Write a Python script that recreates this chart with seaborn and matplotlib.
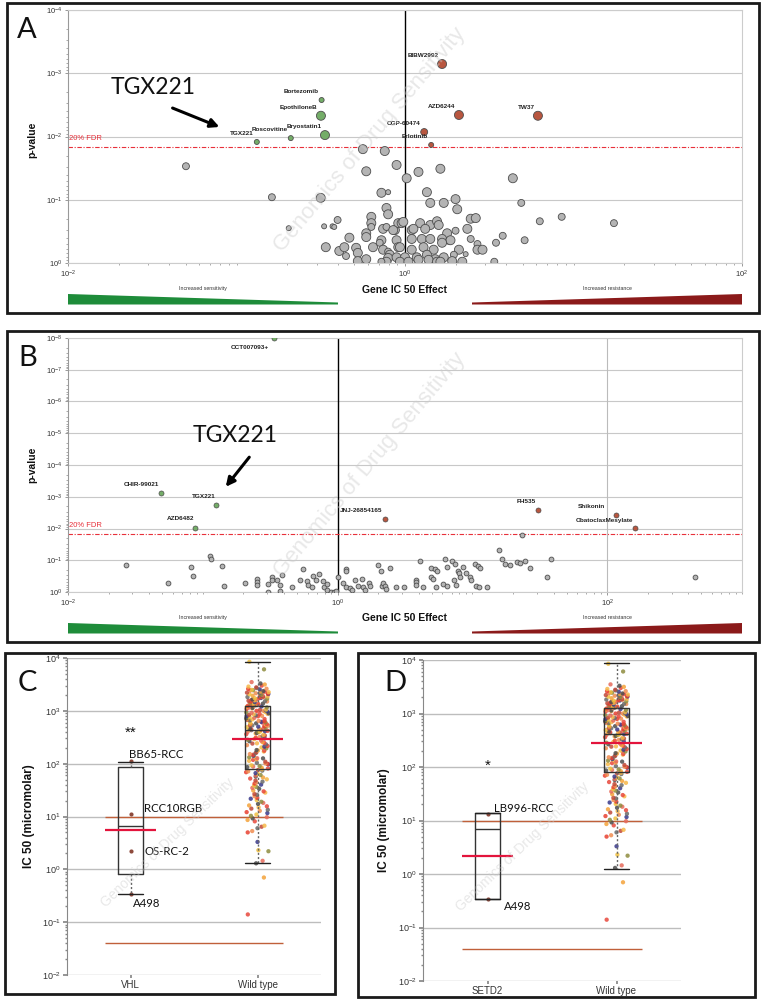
import numpy as np
import pandas as pd
import seaborn as sns
import matplotlib.pyplot as plt
from matplotlib.patches import Rectangle, Polygon
from matplotlib.ticker import LogLocator, NullFormatter, FixedLocator

sns.set_theme(style='white')
plt.rcParams['font.family'] = ['Liberation Sans', 'DejaVu Sans']
plt.rcParams['mathtext.default'] = 'regular'

# ---------------- data ----------------
fdr_p = 0.0144

# panel A: grey drugs as (log10 effect, log10 p, bubble class)
a_gray = [
    (-1.30, -1.53, 'M'), (-0.79, -1.04, 'M'), (-0.50, -1.03, 'L'), (-0.69, -0.55, 'S'),
    (-0.48, -0.58, 'S'), (-0.43, -0.58, 'S'), (-0.42, -0.57, 'S'), (-0.40, -0.68, 'M'),
    (-0.47, -0.25, 'L'), (-0.39, -0.19, 'L'), (-0.36, -0.25, 'L'), (-0.35, -0.11, 'M'),
    (-0.33, -0.40, 'L'), (-0.29, -0.24, 'L'), (-0.28, -0.16, 'L'), (-0.28, -0.03, 'L'),
    (-0.25, -1.80, 'L'), (-0.23, -1.45, 'L'), (-0.23, -0.06, 'L'), (-0.23, -0.47, 'L'),
    (-0.23, -0.41, 'L'), (-0.20, -0.73, 'L'), (-0.20, -0.63, 'L'), (-0.20, -0.57, 'M'),
    (-0.19, -0.25, 'L'), (-0.14, -1.11, 'L'), (-0.10, -1.12, 'S'), (-0.12, -1.77, 'L'),
    (-0.05, -1.55, 'L'), (-0.11, -0.87, 'L'), (-0.10, -0.77, 'L'), (-0.13, -0.54, 'L'),
    (-0.11, -0.57, 'M'), (-0.14, -0.36, 'L'), (-0.15, -0.32, 'M'), (-0.06, -0.52, 'L'),
    (-0.13, -0.21, 'L'), (-0.10, -0.18, 'M'), (-0.09, -0.13, 'L'), (-0.10, -0.08, 'L'),
    (-0.11, -0.02, 'L'), (-0.14, -0.02, 'M'), (-0.05, -0.36, 'L'), (-0.04, -0.25, 'L'),
    (-0.05, -0.09, 'L'), (-0.04, -0.63, 'L'), (0.08, -1.44, 'L'), (0.21, -1.49, 'L'),
    (0.01, -1.34, 'L'), (0.64, -1.34, 'L'), (0.13, -1.12, 'L'), (0.15, -0.95, 'L'),
    (0.23, -0.95, 'L'), (0.30, -1.01, 'L'), (0.31, -0.85, 'L'), (0.69, -0.95, 'M'),
    (0.39, -0.70, 'L'), (0.42, -0.71, 'L'), (0.80, -0.66, 'M'), (0.93, -0.73, 'M'),
    (1.24, -0.63, 'M'), (-0.02, -0.63, 'L'), (-0.01, -0.65, 'L'), (0.09, -0.63, 'L'),
    (0.15, -0.60, 'L'), (0.19, -0.66, 'L'), (0.20, -0.60, 'L'), (-0.07, -0.52, 'L'),
    (0.04, -0.52, 'L'), (0.05, -0.54, 'L'), (0.12, -0.54, 'L'), (0.30, -0.51, 'M'),
    (0.37, -0.54, 'L'), (0.25, -0.47, 'L'), (0.04, -0.38, 'L'), (0.10, -0.38, 'L'),
    (0.15, -0.38, 'L'), (0.22, -0.38, 'L'), (0.26, -0.35, 'M'), (0.27, -0.36, 'L'),
    (0.39, -0.38, 'M'), (0.58, -0.43, 'M'), (0.54, -0.32, 'M'), (0.71, -0.36, 'M'),
    (0.43, -0.30, 'M'), (0.43, -0.21, 'L'), (0.46, -0.21, 'L'), (-0.03, -0.25, 'L'),
    (0.04, -0.21, 'L'), (0.11, -0.25, 'L'), (0.17, -0.21, 'L'), (0.22, -0.32, 'L'),
    (0.32, -0.21, 'L'), (0.36, -0.14, 'S'), (0.00, -0.09, 'L'), (0.07, -0.09, 'L'),
    (0.13, -0.13, 'L'), (0.18, -0.06, 'L'), (0.23, -0.09, 'L'), (0.29, -0.13, 'M'),
    (-0.03, -0.02, 'L'), (0.02, -0.02, 'L'), (0.08, -0.05, 'L'), (0.14, -0.05, 'L'),
    (0.19, -0.02, 'L'), (0.21, -0.02, 'L'), (0.28, -0.03, 'L'), (0.34, -0.02, 'L'),
    (0.53, -0.02, 'M'),
]
a_green_names = ['TGX221', 'Roscovitine', 'Bortezomib', 'EpothiloneB', 'Bryostatin1']
a_green_effect = [0.132, 0.21, 0.32, 0.317, 0.335]
a_green_p = [0.0122, 0.0106, 0.00265, 0.0047, 0.0095]
a_green_size = ['S', 'S', 'S', 'L', 'L']
a_red_names = ['BIBW2992', 'AZD6244', 'TW37', 'CGP-60474', 'Erlotinib']
a_red_effect = [1.66, 2.09, 6.15, 1.30, 1.43]
a_red_p = [0.000714, 0.00457, 0.0047, 0.0085, 0.0136]
a_red_size = ['L', 'L', 'L', 'M', 'S']

# panel B: grey drugs as (log10 effect, log10 p)
b_gray = [
    (-1.57, -0.85), (-1.26, -0.28), (-1.09, -0.79), (-1.07, -0.50), (-0.95, -1.13),
    (-0.94, -1.04), (-0.86, -0.82), (-0.84, -0.19), (-0.69, -0.28), (-0.60, -0.41),
    (-0.60, -0.31), (-0.60, -0.22), (-0.52, -0.25), (-0.52, -0.01), (-0.49, -0.47),
    (-0.49, -0.38), (-0.45, -0.38), (-0.43, -0.22), (-0.43, -0.03), (-0.41, -0.54),
    (-0.34, -0.16), (-0.28, -0.38), (-0.26, -0.72), (-0.23, -0.35), (-0.22, -0.22),
    (-0.18, -0.50), (-0.16, -0.38), (-0.14, -0.57), (-0.11, -0.35), (-0.19, -0.16),
    (-0.10, -0.16), (-0.08, -0.25), (-0.08, -0.06), (-0.05, -0.01), (-0.03, -0.01),
    (-0.01, -0.03), (0.00, -0.47), (0.06, -0.72), (0.06, -0.66), (0.04, -0.28),
    (0.06, -0.16), (0.09, -0.13), (0.11, -0.06), (0.13, -0.38), (0.18, -0.41),
    (0.15, -0.19), (0.19, -0.16), (0.20, -0.06), (0.23, -0.28), (0.24, -0.19),
    (0.30, -0.85), (0.32, -0.66), (0.33, -0.19), (0.34, -0.28), (0.35, -0.19),
    (0.36, -0.09), (0.39, -0.76), (0.43, -0.16), (0.49, -0.16), (0.58, -0.38),
    (0.58, -0.31), (0.58, -0.22), (0.61, -0.98), (0.63, -0.16), (0.69, -0.76),
    (0.72, -0.72), (0.74, -0.66), (0.69, -0.47), (0.71, -0.41), (0.73, -0.16),
    (0.80, -1.04), (0.81, -0.79), (0.78, -0.25), (0.81, -0.19), (0.85, -0.98),
    (0.87, -0.88), (0.89, -0.66), (0.90, -0.60), (0.91, -0.47), (0.93, -0.79),
    (0.95, -0.60), (0.86, -0.38), (0.88, -0.22), (0.98, -0.47), (0.99, -0.38),
    (1.02, -0.88), (1.04, -0.82), (1.06, -0.76), (1.03, -0.19), (1.05, -0.16),
    (1.11, -0.16), (1.20, -1.32), (1.22, -1.04), (1.24, -0.88), (1.28, -0.85),
    (1.33, -0.94), (1.35, -0.91), (1.37, -1.80), (1.39, -0.98), (1.43, -0.76),
    (1.55, -0.47), (1.58, -1.04), (2.65, -0.47),
]
b_green_names = ['CCT007093+', 'CHIR-99021', 'TGX221', 'AZD6482']
b_green_effect = [0.339, 0.049, 0.126, 0.087]
b_green_p = [1.0e-8, 7.6e-4, 1.82e-3, 9.5e-3]
b_red_names = ['JNJ-26854165', 'FH535', 'Shikonin', 'ObatoclaxMesylate']
b_red_effect = [2.24, 30.9, 117, 162]
b_red_p = [5.0e-3, 2.63e-3, 3.7e-3, 9.5e-3]

# panels C / D: IC50 (micromolar)
vhl_lines = ['BB65-RCC', 'RCC10RGB', 'OS-RC-2', 'A498']
vhl_ic50 = [110, 11.1, 2.2, 0.34]
setd2_lines = ['LB996-RCC', 'A498']
setd2_ic50 = [13.5, 0.34]
wt_ic50 = [
    0.14, 0.7, 1.3, 1.45, 2.2, 2.3, 3.3, 5.0, 5.3, 6.0, 6.4, 6.7, 8.1, 8.6, 9.2, 9.7,
    10.3, 10.9, 11.6, 12.1, 12.8, 13.4, 14.1, 14.9, 15.6, 16.2, 17.3, 18.1, 19.0, 20.4,
    21.7, 22.5, 24.1, 25.8, 26.6, 28.3, 29.9, 31.0, 33.4, 34.8, 36.2, 38.5, 40.1, 41.9,
    44.0, 45.7, 47.9, 50.6, 52.3, 54.8, 57.1, 59.5, 61.0, 63.7, 66.2, 68.9, 71.5, 73.8,
    76.0, 78.2,
    81, 84, 86, 88, 90, 93, 97, 99, 101, 104, 109, 113, 118, 121, 126, 127, 132, 137,
    141, 147, 152, 158, 163, 170, 176, 178, 181, 189, 195, 203, 210, 216, 224, 231,
    240, 243, 247, 255, 266, 273, 284, 292, 301, 310, 322, 331, 340, 352, 361, 372,
    381, 393, 395, 402, 411, 419, 426, 430,
    438, 446, 450, 455, 463, 472, 481, 490, 502, 511, 523, 530, 534, 545, 556, 569,
    580, 594, 606, 610, 619, 633, 646, 660, 675, 689, 700, 705, 720, 736, 752, 769,
    786, 790, 803, 821, 840, 858, 877, 880, 896, 915, 935, 956, 977, 998, 1000, 1020,
    1042, 1065, 1088, 1112, 1136, 1150, 1160, 1185, 1210, 1236,
    1262, 1280, 1290, 1315, 1340, 1350, 1372, 1398, 1410, 1425, 1460, 1490, 1500, 1520,
    1555, 1580, 1590, 1622, 1640, 1660, 1695, 1730, 1750, 1770, 1805, 1820, 1850, 1880,
    1890, 1930, 1975, 2000, 2020, 2065, 2080, 2110, 2150, 2160, 2210, 2260, 2300, 2310,
    2370, 2430, 2450, 2490, 2550, 2600, 2620, 2700, 2780, 2880, 3000, 3150, 3300, 3500,
    6100, 8500,
]
# box statistics as drawn in the figure
vhl_box = dict(q1=0.81, med=6.6, q3=86, whislo=0.34, whishi=107)
wt_box_c = dict(q1=79, med=433, q3=1230, whislo=1.32, whishi=8400)
setd2_box = dict(q1=0.34, med=6.9, q3=13.8, whislo=0.34, whishi=13.8)
wt_box_d = dict(q1=80, med=414, q3=1260, whislo=1.24, whishi=8800)
vhl_gmean, wt_gmean_c = 5.5, 292
setd2_gmean, wt_gmean_d = 2.17, 281
max_conc, min_conc = 10, 0.04

# ---------------- styling ----------------
W, H = 766, 1001
GREEN, RED, GREY = '#74AD68', '#B8563F', '#B4B4B4'
wt_palette = ['#E8483C', '#F4A23A', '#4D4D4D', '#E66A5A', '#8E8C3E', '#F0C040',
              '#38388A', '#E84030', '#F08C50', '#6A6A6A', '#C04838', '#F6B84A']
size_map = {'S': 13, 'M': 25, 'L': 42}

fig = plt.figure(figsize=(W / 100, H / 100), dpi=100)


def px_rect(x0, y0, x1, y1):
    return [x0 / W, 1 - y1 / H, (x1 - x0) / W, (y1 - y0) / H]


def label_points(ax, xs, ys, names, offsets):
    for x, y, n, (dx, dy) in zip(xs, ys, names, offsets):
        ax.annotate(n, (x, y), xytext=(dx, dy), textcoords='offset points', ha='right',
                    va='center', fontsize=4.6, fontweight='bold', color='#222222', zorder=6)


def volcano_axes(ax, ymin_exp, xmax_exp):
    ax.set_xscale('log')
    ax.set_yscale('log')
    ax.set_xlim(1e-2, 10 ** xmax_exp)
    ax.set_ylim(1, 10 ** ymin_exp)
    ax.xaxis.set_major_locator(FixedLocator([1e-2, 1, 1e2]))
    ax.xaxis.set_minor_locator(LogLocator(base=10, subs=np.arange(1, 10), numticks=60))
    ax.xaxis.set_minor_formatter(NullFormatter())
    ax.yaxis.set_major_locator(FixedLocator([10.0 ** k for k in range(ymin_exp, 1)]))
    ax.yaxis.set_minor_locator(LogLocator(base=10, subs=np.arange(2, 10), numticks=60))
    ax.yaxis.set_minor_formatter(NullFormatter())
    ax.grid(False)
    ax.yaxis.grid(True, which='major', color='#C8C8C8', lw=0.8)
    ax.set_axisbelow(True)
    for s in ax.spines.values():
        s.set_color('#CCCCCC')
        s.set_linewidth(0.8)
    ax.spines['left'].set_color('#999999')
    ax.tick_params(axis='both', which='both', left=True, bottom=True, direction='out',
                   colors='#888888', labelcolor='#333333', labelsize=5.5, pad=1.5)
    ax.tick_params(which='major', length=2.5, width=0.6)
    ax.tick_params(which='minor', length=1.5, width=0.5)
    ax.axvline(1, color='black', lw=1, zorder=2)
    ax.axhline(fdr_p, color='#E8303A', lw=0.8, ls=(0, (4, 1.5, 1, 1.5)), zorder=2)
    ax.annotate('20% FDR', (1.02e-2, fdr_p), xytext=(0, 3.5), textcoords='offset points',
                color='#E8303A', fontsize=5.5, va='bottom', ha='left')
    ax.set_xlabel('Gene IC 50 Effect', fontsize=7.5, fontweight='bold', color='#111111')
    ax.set_ylabel('p-value', fontsize=7.5, fontweight='bold', color='#111111')


# ---------------- panel A ----------------
axA = fig.add_axes(px_rect(68, 10, 742, 263))
dfA = pd.DataFrame({'effect': [10 ** t[0] for t in a_gray],
                    'p': [10 ** t[1] for t in a_gray],
                    'size': [t[2] for t in a_gray]})
volcano_axes(axA, -4, 2)
sns.scatterplot(data=dfA, x='effect', y='p', size='size', sizes=size_map, color=GREY,
                edgecolor='#4D4D4D', linewidth=0.6, legend=False, ax=axA, zorder=3)
sns.scatterplot(x=a_green_effect, y=a_green_p, size=a_green_size, sizes=size_map, color=GREEN,
                edgecolor='#4D4D4D', linewidth=0.6, legend=False, ax=axA, zorder=4)
sns.scatterplot(x=a_red_effect, y=a_red_p, size=a_red_size, sizes=size_map, color=RED,
                edgecolor='#4D4D4D', linewidth=0.6, legend=False, ax=axA, zorder=4)
label_points(axA, a_green_effect, a_green_p, a_green_names, [(-2.5, 6)] * 5)
label_points(axA, a_red_effect, a_red_p, a_red_names, [(-2.5, 6)] * 5)
axA.set_xlabel('Gene IC 50 Effect')
axA.xaxis.set_label_coords(0.5, -0.087)
axA.yaxis.set_label_coords(-0.045, 0.486)

# ---------------- panel B ----------------
axB = fig.add_axes(px_rect(68, 338, 742, 592))
dfB = pd.DataFrame({'effect': [10 ** t[0] for t in b_gray],
                    'p': [10 ** t[1] for t in b_gray]})
volcano_axes(axB, -8, 3)
axB.axvline(100, color='#BBBBBB', lw=0.8, zorder=2)
sns.scatterplot(data=dfB, x='effect', y='p', s=12, color=GREY, edgecolor='#4D4D4D',
                linewidth=0.6, legend=False, ax=axB, zorder=3)
sns.scatterplot(x=b_green_effect, y=b_green_p, s=13, color=GREEN, edgecolor='#4D4D4D',
                linewidth=0.5, legend=False, ax=axB, zorder=4)
sns.scatterplot(x=b_red_effect, y=b_red_p, s=13, color=RED, edgecolor='#4D4D4D',
                linewidth=0.5, legend=False, ax=axB, zorder=4)
label_points(axB, b_green_effect, b_green_p, b_green_names,
             [(-4, -6.5), (-1.5, 6), (-0.5, 6), (-0.5, 6.5)])
label_points(axB, b_red_effect, b_red_p, b_red_names,
             [(-1.5, 6), (-2, 6), (-8, 6), (-2, 5.5)])
axB.xaxis.set_label_coords(0.5, -0.083)
axB.yaxis.set_label_coords(-0.045, 0.5)


# ---------------- panels C / D ----------------
def ic50_panel(ax, mut_name, mut_vals, mut_labels, label_pos, mut_box, wt_box,
               mut_gmean, wt_gmean, stars, star_y):
    order = [mut_name, 'Wild type']
    wt_df = pd.DataFrame({'group': 'Wild type', 'ic50': wt_ic50,
                          'tissue': ['t%d' % (i % len(wt_palette)) for i in range(len(wt_ic50))]})
    np.random.seed(7)
    ax.hlines([max_conc, min_conc], -0.2, 1.2, color='#C0603A', lw=1, zorder=2)
    sns.stripplot(data=wt_df, x='group', y='ic50', hue='tissue', order=order,
                  hue_order=['t%d' % i for i in range(len(wt_palette))], palette=wt_palette,
                  jitter=0.09, size=3.1, alpha=0.85, linewidth=0, legend=False, ax=ax, zorder=3)
    sns.stripplot(x=[mut_name] * len(mut_vals), y=mut_vals, order=order, jitter=False,
                  color='#8E4A3C', size=3, ax=ax, zorder=3)
    ax.set_yscale('log')
    ax.bxp([dict(mut_box, fliers=[]), dict(wt_box, fliers=[])], positions=[0, 1],
           widths=0.2, capwidths=0.2, showfliers=False, manage_ticks=False, zorder=4,
           boxprops=dict(color='#333333', lw=1), medianprops=dict(color='#333333', lw=1),
           whiskerprops=dict(color='#666666', lw=1, ls=(0, (1.5, 1.5))),
           capprops=dict(color='#222222', lw=1))
    ax.hlines([mut_gmean], -0.2, 0.2, color='#E3143C', lw=1.6, zorder=5)
    ax.hlines([wt_gmean], 0.8, 1.2, color='#E3143C', lw=1.6, zorder=5)
    for name, (tx, ty) in zip(mut_labels, label_pos):
        ax.text(tx, ty, name, fontsize=8.2, family=['Lato', 'DejaVu Sans'], ha='left',
                va='center', color='#111111', zorder=6)
    ax.text(0, star_y, stars, fontsize=11, ha='center', va='center', color='#111111')
    ax.set_xlim(-0.5, 1.5)
    ax.set_ylim(1e-2, 1e4)
    ax.set_xticks([0, 1])
    ax.set_xticklabels(order)
    ax.set_xlabel('')
    ax.yaxis.set_major_locator(FixedLocator([10.0 ** k for k in range(-2, 5)]))
    ax.yaxis.set_minor_locator(LogLocator(base=10, subs=np.arange(2, 10), numticks=60))
    ax.yaxis.set_minor_formatter(NullFormatter())
    ax.grid(False)
    ax.yaxis.grid(True, which='major', color='#BDBDBD', lw=1)
    ax.set_axisbelow(True)
    for s in ['top', 'right', 'bottom']:
        ax.spines[s].set_visible(False)
    ax.spines['left'].set_color('#888888')
    ax.spines['left'].set_linewidth(0.8)
    ax.tick_params(axis='both', which='both', left=True, bottom=True, direction='out',
                   colors='#888888', labelcolor='#333333', pad=1.5)
    ax.tick_params(axis='y', which='major', length=3, labelsize=6.5)
    ax.tick_params(axis='y', which='minor', length=1.8)
    ax.tick_params(axis='x', length=2.5, labelsize=7, pad=1)
    ax.set_ylabel('IC 50 (micromolar)', fontsize=8.5, fontweight='bold', color='#111111')
    ax.yaxis.set_label_coords(-0.127, 0.5)


axC = fig.add_axes(px_rect(67, 658, 321, 975))
ic50_panel(axC, 'VHL', vhl_ic50, vhl_lines,
           [(-0.01, 150), (0.11, 14.4), (0.11, 2.2), (0.016, 0.23)],
           vhl_box, wt_box_c, vhl_gmean, wt_gmean_c, '**', 380)

axD = fig.add_axes(px_rect(423, 660, 681, 981))
ic50_panel(axD, 'SETD2', setd2_ic50, setd2_lines, [(0.047, 17), (0.124, 0.25)],
           setd2_box, wt_box_d, setd2_gmean, wt_gmean_d, '*', 105)

# ---------------- overlay: frames, letters, callouts ----------------
ov = fig.add_axes([0, 0, 1, 1], zorder=10)
ov.set_xlim(0, W)
ov.set_ylim(H, 0)
ov.axis('off')
ov.patch.set_alpha(0)
for x0, y0, x1, y1 in [(7, 3, 759, 313), (7, 331, 759, 642), (5, 653, 335, 994), (358, 653, 755, 997)]:
    ov.add_patch(Rectangle((x0, y0), x1 - x0, y1 - y0, fill=False, lw=2, ec='#1A1A1A'))

for dy in [0, 329]:
    ov.add_patch(Polygon([(68, 294 + dy), (338, 302.5 + dy), (338, 304.5 + dy), (68, 304.5 + dy)],
                         closed=True, color='#1E8C3A', lw=0))
    ov.add_patch(Polygon([(472, 302.5 + dy), (742, 294 + dy), (742, 304.5 + dy), (472, 304.5 + dy)],
                         closed=True, color='#8B1A1A', lw=0))
    ov.text(203, 291 + dy, 'Increased sensitivity', fontsize=3.8, ha='center', va='bottom', color='#333333')
    ov.text(607, 291 + dy, 'Increased resistance', fontsize=3.8, ha='center', va='bottom', color='#333333')

for letter, x, y in [('A', 27, 30), ('B', 28, 358), ('C', 27, 683), ('D', 395, 683)]:
    ov.text(x, y, letter, fontsize=21, ha='center', va='center', color='#111111',
            family=['Lato', 'DejaVu Sans'])

ov.text(153, 88, 'TGX221', fontsize=16.5, ha='center', va='center', color='#111111',
        family=['Lato', 'DejaVu Sans'])
ov.annotate('', xy=(222, 128), xytext=(170, 107),
            arrowprops=dict(arrowstyle='-|>', lw=2.2, color='black', mutation_scale=13))
ov.text(235, 435, 'TGX221', fontsize=16.5, ha='center', va='center', color='#111111',
        family=['Lato', 'DejaVu Sans'])
ov.annotate('', xy=(224, 489), xytext=(251, 455),
            arrowprops=dict(arrowstyle='-|>', lw=2.2, color='black', mutation_scale=13))

for cx, cy, fs, rot in [(370, 140, 16, 50), (370, 465, 16, 50), (168, 843, 10, 44), (523, 847, 10, 44)]:
    ov.text(cx, cy, 'Genomics of Drug Sensitivity', fontsize=fs, rotation=rot, ha='center',
            va='center', color='#CCCCCC', alpha=0.45)

fig.savefig('out.png', dpi=100)
